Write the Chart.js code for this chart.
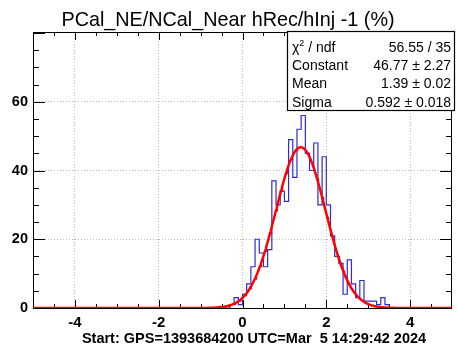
<!DOCTYPE html>
<html>
<head>
<meta charset="utf-8">
<script src="https://cdn.jsdelivr.net/npm/chart.js@4/dist/chart.umd.min.js"></script>
<style>
  body { margin: 0; background: #fff; }
</style>
</head>
<body>
<canvas id="myChart" width="458" height="347"></canvas>
<script>
var title = 'PCal_NE/NCal_Near hRec/hInj -1 (%)';
var footer = 'Start: GPS=1393684200 UTC=Mar  5 14:29:42 2024';

// histogram, bin width 0.1, only the filled bins (rest of -5..5 is empty)
var binWidth = 0.1;
var firstBin = -0.3;
var counts = [1, 3, 1,
  4, 7, 12, 20, 16, 12, 17, 37, 30, 34,
  31, 49, 38, 52, 56, 45, 40, 48, 30, 44,
  30, 21, 15, 13, 4, 14, 7, 3, 8, 2,
  2, 2, 1, 3, 1];

// gaus fit result (from the stats box)
var fitConst = 46.77;
var fitMean = 1.39;
var fitSigma = 0.592;

var statNames = ['χ2 / ndf', 'Constant', 'Mean', 'Sigma'];
var statValues = ['56.55 / 35', '46.77 ± 2.27', '1.39 ± 0.02', '0.592 ± 0.018'];

var xTicks = [-4, -2, 0, 2, 4];
var yTicks = [0, 20, 40, 60];
var xRange = [-5, 5];
var yRange = [0, 80.3];

var FONT = '"Liberation Sans", Arial, Helvetica, sans-serif';

// build step points for the histogram
var histPts = [];
var nBins = Math.round((xRange[1] - xRange[0]) / binWidth);
for (var i = 0; i < nBins; i++) {
  var lo = xRange[0] + i * binWidth;
  var j = Math.round((lo - firstBin) / binWidth);
  histPts.push({x: lo, y: (j >= 0 && j < counts.length) ? counts[j] : 0});
}
histPts.push({x: xRange[1], y: 0});

// the fitted gaussian
var fitPts = [];
for (var k = 0; k <= 500; k++) {
  var x = xRange[0] + k * (xRange[1] - xRange[0]) / 500;
  fitPts.push({x: x, y: fitConst * Math.exp(-0.5 * Math.pow((x - fitMean) / fitSigma, 2))});
}

var rootStyle = {
  id: 'rootStyle',
  beforeDatasetsDraw: function(chart) {
    var ctx = chart.ctx, a = chart.chartArea;
    var xs = chart.scales.x, ys = chart.scales.y;
    ctx.save();
    ctx.strokeStyle = '#000';
    ctx.lineWidth = 1;
    ctx.strokeRect(Math.round(a.left) + 0.5, Math.round(a.top) + 0.5,
      Math.round(a.right - a.left) - 1, Math.round(a.bottom - a.top));
    ctx.beginPath();
    for (var v = -4.5; v < 5; v += 0.5) {
      var px = Math.round(xs.getPixelForValue(v)) + 0.5;
      var len = (v % 2 === 0) ? 8 : 4;
      ctx.moveTo(px, a.bottom); ctx.lineTo(px, a.bottom - len);
      ctx.moveTo(px, a.top); ctx.lineTo(px, a.top + len);
    }
    for (var w = 5; w < yRange[1]; w += 5) {
      var py = Math.round(ys.getPixelForValue(w)) + 0.5;
      var l2 = (w % 20 === 0) ? 12 : 6;
      ctx.moveTo(a.left, py); ctx.lineTo(a.left + l2, py);
      ctx.moveTo(a.right, py); ctx.lineTo(a.right - l2, py);
    }
    ctx.stroke();
    ctx.restore();
  },
  afterDraw: function(chart) {
    var ctx = chart.ctx;
    ctx.save();
    ctx.fillStyle = '#000';
    ctx.textBaseline = 'alphabetic';
    ctx.textAlign = 'center';
    ctx.font = '19.8px ' + FONT;
    ctx.fillText(title, 228, 26);
    ctx.font = 'bold 14.5px ' + FONT;
    ctx.fillText(footer, 254, 343);

    // stats box
    var bx = 287, by = 31, bw = 167, bh = 79;
    ctx.fillStyle = '#fff';
    ctx.fillRect(bx, by, bw, bh);
    ctx.strokeStyle = '#000';
    ctx.lineWidth = 1.2;
    ctx.strokeRect(bx + 0.5, by + 0.5, bw, bh);
    ctx.fillStyle = '#000';
    ctx.font = '14px ' + FONT;
    for (var r = 0; r < statNames.length; r++) {
      var ty = 52 + r * 18.2;
      ctx.textAlign = 'left';
      if (r === 0) {
        ctx.fillText('χ', 292, ty);
        var cw = ctx.measureText('χ').width;
        ctx.font = '9px ' + FONT;
        ctx.fillText('2', 292 + cw, ty - 6);
        var sw = ctx.measureText('2').width;
        ctx.font = '14px ' + FONT;
        ctx.fillText(' / ndf', 292 + cw + sw, ty);
      } else {
        ctx.fillText(statNames[r], 292, ty);
      }
      ctx.textAlign = 'right';
      ctx.fillText(statValues[r], 451, ty);
    }
    ctx.restore();
  }
};

var ctx = document.getElementById('myChart').getContext('2d');
var myChart = new Chart(ctx, {
  type: 'line',
  data: {
    datasets: [
      {label: 'fit', data: fitPts, borderColor: '#ff0000', borderWidth: 2.5,
        pointRadius: 0, tension: 0, fill: false},
      {label: 'hRec/hInj', data: histPts, borderColor: '#2d2dd2', borderWidth: 1.2,
        stepped: true, pointRadius: 0, fill: false}
    ]
  },
  options: {
    responsive: false,
    animation: false,
    layout: {padding: {top: 32, left: 0, right: 6, bottom: 0}},
    plugins: {legend: {display: false}, tooltip: {enabled: false}, title: {display: false}},
    scales: {
      x: {
        type: 'linear', min: xRange[0], max: xRange[1],
        afterBuildTicks: function(axis) { axis.ticks = xTicks.map(function(v) { return {value: v}; }); },
        afterFit: function(axis) { axis.height = 39; },
        ticks: {autoSkip: false, maxRotation: 0, color: '#000', padding: 6,
          font: {family: FONT, size: 15, weight: 'bold'}},
        grid: {color: '#bdbdbd', lineWidth: 1, drawTicks: false},
        border: {display: false, dash: [1, 2]}
      },
      y: {
        min: yRange[0], max: yRange[1],
        afterBuildTicks: function(axis) { axis.ticks = yTicks.map(function(v) { return {value: v}; }); },
        afterFit: function(axis) { axis.width = 33; },
        ticks: {autoSkip: false, color: '#000', padding: 5,
          font: {family: FONT, size: 14.5, weight: 'bold'}},
        grid: {
          color: function(c) { return c.tick && c.tick.value === 0 ? 'rgba(0,0,0,0)' : '#bdbdbd'; },
          lineWidth: 1, drawTicks: false
        },
        border: {display: false, dash: [1, 2]}
      }
    }
  },
  plugins: [rootStyle]
});
</script>
</body>
</html>
